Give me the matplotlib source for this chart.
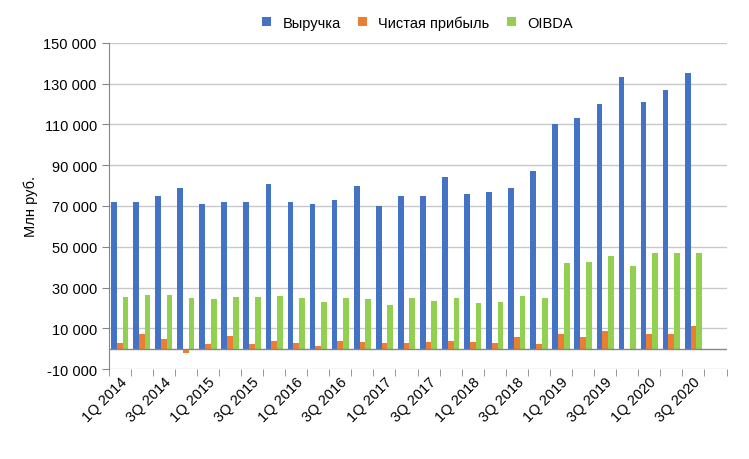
import matplotlib.pyplot as plt
import numpy as np

plt.rcParams["font.family"] = "Liberation Sans"

quarters = [f"{q}Q {y}" for y in range(2014, 2021) for q in range(1, 5)]
revenue = [72, 72, 75, 79, 71, 72, 72, 81, 72, 71, 73, 80, 70, 75, 75, 84,
           76, 77, 79, 87, 110, 113, 120, 133, 121, 127, 135]
net_profit = [2.7, 7.5, 5, -2, 2.2, 6.2, 2.2, 4, 3.1, 1.6, 4, 3.6, 3.1, 2.7,
              3.6, 4, 3.6, 3.1, 5.6, 2.2, 7.5, 5.6, 9, -0.5, 7.5, 7.5, 11]
oibda = [25.5, 26.5, 26.5, 25, 24.5, 25.5, 25.5, 26, 25, 23, 25, 24.5, 21.5,
         25, 23.5, 25, 22.5, 23, 26, 25, 42, 42.5, 45.5, 40.5, 47, 47, 47]
yticks = list(range(-10000, 150001, 20000))

fig = plt.figure(figsize=(7.49, 4.60), dpi=100)
ax = fig.add_axes([0.145, 0.195, 0.825, 0.71])

n = len(quarters)
x = np.arange(len(revenue))
w = 0.26
ax.bar(x - w, np.array(revenue) * 1000, w, color="#4472C4", label="Выручка")
ax.bar(x, np.array(net_profit) * 1000, w, color="#ED7D31", label="Чистая прибыль")
ax.bar(x + w, np.array(oibda) * 1000, w, color="#92D050", label="OIBDA")

ax.set_xlim(-0.5, n - 0.5)
ax.set_ylim(-10000, 150000)
ax.set_yticks(yticks)
ax.set_yticklabels([f"{v:,}".replace(",", " ") for v in yticks], fontsize=10.5)
ax.set_xticks(np.arange(0, n, 2))
ax.set_xticklabels(quarters[::2], rotation=45, ha="right", rotation_mode="anchor", fontsize=10.5)
ax.set_xticks(np.arange(-0.5, n, 1), minor=True)
ax.tick_params(axis="x", which="major", length=0)
ax.tick_params(axis="x", which="minor", length=5, color="#868686")
ax.tick_params(axis="y", length=5, color="#868686")
ax.grid(axis="y", color="#c8c8c8", linewidth=1)
ax.set_axisbelow(True)
ax.axhline(0, color="#868686", linewidth=1)
for s in ["top", "right", "bottom"]:
    ax.spines[s].set_visible(False)
ax.spines["left"].set_color("#868686")
ax.set_ylabel("Млн руб.", fontsize=10.5)

ax.legend(loc="lower center", bbox_to_anchor=(0.5, 1.0), ncol=3, frameon=False,
          fontsize=10.5, handlelength=0.6, handleheight=0.6, columnspacing=1.2)

fig.savefig("out.png")
